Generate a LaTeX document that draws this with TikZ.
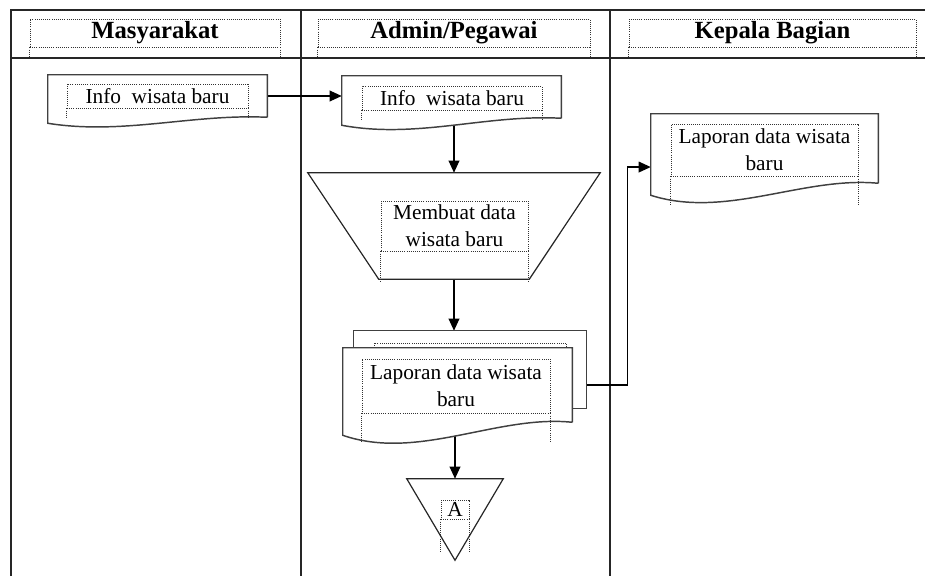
\documentclass[tikz,border=0pt]{standalone}
\usepackage{fontspec}
\setmainfont{Liberation Serif}
\usetikzlibrary{arrows.meta}
\tikzset{
    GR/.style ={line width=1.4pt, draw=black!85},
    DK/.style ={rectangle, inner sep=0pt},
    DL/.style ={draw=black!75, line width=1.1pt, fill=white},
    GA/.style ={draw=black!85, line width=0.9pt, fill=white},
    KT/.style ={draw=black!80, densely dotted, line width=0.6pt, inner sep=0pt, align=center, font=\fontsize{16}{20}\selectfont},
    KH/.style ={KT, font=\fontsize{18.5}{22}\selectfont\bfseries},
    TT/.style ={draw=black!80, densely dotted, line width=0.6pt},
    PA/.style ={-{Triangle[length=9pt,width=8pt]}, line width=1pt}}
\newcommand\dokumen[2]{\draw[DL] (#1.south east) -- (#1.north east) -- (#1.north west)
    -- ([shift={(0,#2)}]#1.south west) .. controls +(75,2*#2) and +(-75,-0.6*#2) .. (#1.south east);}
\begin{document}
\begin{tikzpicture}[x=0.75pt,y=-0.75pt]
    \useasboundingbox (0,0) rectangle (925,576);
    % lanes
    \draw[GR] (11,576) -- (11,10) -- (925,10);
    \draw[GR] (11,58) -- (925,58);
    \draw[GR] (301,10) -- (301,576);
    \draw[GR] (610,10) -- (610,576);
    \node[KH, minimum width=187.5pt, minimum height=21pt] (h1) at (155,33) {Masyarakat};
    \node[KH, minimum width=204pt, minimum height=21pt] (h2) at (454,33) {Admin/Pegawai};
    \node[KH, minimum width=215.25pt, minimum height=21pt] (h3) at (772.5,33) {Kepala Bagian};
    % shapes
    \node[DK, minimum width=164.25pt, minimum height=31.5pt] (d1) at (157.5,96) {};
    \node[DK, minimum width=164.25pt, minimum height=31.5pt] (d2) at (451.5,97) {};
    \node[DK, minimum width=219pt, minimum height=79.5pt] (buat) at (454,226) {};
    \node[DK, minimum width=174pt, minimum height=57.75pt] (bl) at (470,369.5) {};
    \node[DK, minimum width=171.75pt, minimum height=55.5pt] (lap) at (457.5,385) {};
    \node[DK, minimum width=72pt, minimum height=60.75pt] (A) at (455,519.5) {};
    \node[DK, minimum width=170.25pt, minimum height=51.75pt] (d3) at (764.5,148.5) {};
    % arrows
    \draw[PA] (d1.east) -- (d1.east -| d2.west);
    \draw[PA] (d2.south -| buat.north) -- (buat.north);
    \draw[PA] (buat.south) -- (buat.south |- bl.north);
    \draw[PA] (lap.south -| A.north) -- (A.north);
    \draw[PA] ([yshift=-11.6pt]bl.east) -- ++(41,0) |- ([yshift=-13.9pt]d3.west);
    % outlines
    \dokumen{d1}{6}
    \dokumen{d2}{7}
    \dokumen{d3}{12}
    \draw[GA] (buat.north west) -- (buat.north east) -- ([shift={(-71,0)}]buat.south east)
        -- ([shift={(71,0)}]buat.south west) -- cycle;
    \draw[DL] (bl.north west) rectangle (bl.south east);
    \node[KT, minimum width=144pt, minimum height=12.75pt] (t6) at (470,351.5) {};
    \dokumen{lap}{13}
    \draw[GA] (A.north west) -- (A.north east) -- (A.south) -- cycle;
    % text boxes
    \node[KT, minimum width=135.75pt, minimum height=18pt] (t1) at (157.5,96) {Info~ wisata baru};
    \node[KT, minimum width=135pt, minimum height=18pt] (t2) at (452,98) {Info~ wisata baru};
    \node[KT, minimum width=140.25pt, minimum height=39pt] (t3) at (764.5,150) {Laporan data wisata\\baru};
    \node[KT, minimum width=110.25pt, minimum height=37.5pt] (t4) at (454.5,226) {Membuat data\\wisata baru};
    \node[KT, minimum width=141pt, minimum height=40.5pt] (t5) at (456,386) {Laporan data wisata\\baru};
    \node[KT, minimum width=21pt, minimum height=14.25pt] (t7) at (455,509.5) {A};
    \foreach \n/\d in {h1/10,h2/10,h3/10,t1/10,t2/10,t3/29,t4/31,t5/28,t7/33}
        \draw[TT] (\n.south west) -- ++(0,\d) (\n.south east) -- ++(0,\d);
\end{tikzpicture}
\end{document}
